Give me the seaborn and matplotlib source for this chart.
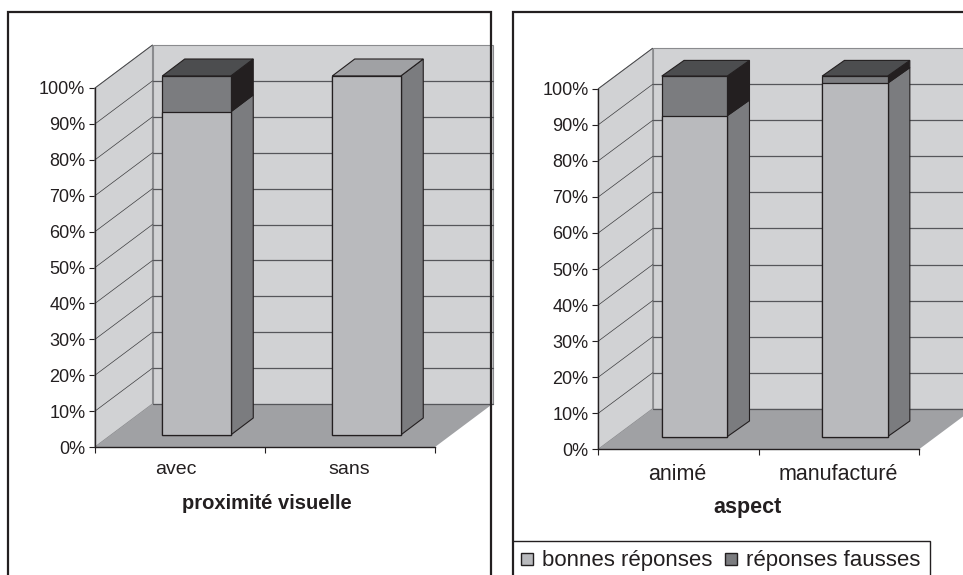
import matplotlib
matplotlib.use("Agg")
import matplotlib.pyplot as plt
import pandas as pd
import seaborn as sns
from matplotlib.lines import Line2D
from matplotlib.patches import Polygon, Rectangle
from matplotlib.transforms import Affine2D

# Percentages per condition
proximite_categories = ["avec", "sans"]
proximite_bonnes = [90, 100]
proximite_fausses = [10, 0]

aspect_categories = ["animé", "manufacturé"]
aspect_bonnes = [89, 98]
aspect_fausses = [11, 2]

y_ticks = list(range(0, 101, 10))
legend_labels = ["bonnes réponses", "réponses fausses"]

WIDTH, HEIGHT = 963, 575
INK = "#231f20"
WALL = "#d1d2d4"
FLOOR = "#a0a1a4"
GRID = "#55565a"
LIGHT = "#b9babd"
LIGHT_SIDE = "#7b7c7f"
LIGHT_TOP = "#a0a1a4"
DARK = "#7b7c7f"
DARK_SIDE = "#231f20"
DARK_TOP = "#4c4d4f"

sns.set_theme(style="white")
plt.rcParams["font.family"] = ["Liberation Sans", "DejaVu Sans"]
plt.rcParams["text.color"] = INK

fig = plt.figure(figsize=(WIDTH / 100, HEIGHT / 100), dpi=100, facecolor="white")


def fx(x):
    return x / WIDTH


def fy(y):
    return 1 - y / HEIGHT


def draw_panel(categories, bonnes, fausses, xlabel, box, wall_shift, bar_shift,
               bar_depth, bar_width, label_y, title_y, label_x, title_x,
               label_size, title_size):
    """Stacked percentage bars on a pseudo-3D wall and floor; box is in pixels."""
    left, right, y100, y0 = box
    ax = fig.add_axes([fx(left), fy(y0), (right - left) / WIDTH, (y0 - y100) / HEIGHT],
                      facecolor="none")
    table = pd.DataFrame({"cat": categories, "bonnes": bonnes,
                          "total": [b + f for b, f in zip(bonnes, fausses)]})
    sns.barplot(table, x="cat", y="total", color=DARK, saturation=1, width=bar_width,
                edgecolor=INK, linewidth=0.9, ax=ax, zorder=5)
    sns.barplot(table, x="cat", y="bonnes", color=LIGHT, saturation=1, width=bar_width,
                edgecolor=INK, linewidth=0.9, ax=ax, zorder=6)
    ax.set_xlim(-0.5, 1.5)
    ax.set_ylim(0, 100)

    # Pixel-to-data scale, used for the receding depth direction
    ux = 2 / (right - left)
    uy = 100 / (y0 - y100)
    wx, wy = wall_shift[0] * ux, wall_shift[1] * uy
    dx, dy = bar_depth[0] * ux, bar_depth[1] * uy
    front = ax.transData + Affine2D().translate(*bar_shift)

    def poly(points, color, z, edge=None, lw=0.0, transform=None):
        ax.add_patch(Polygon(points, closed=True, facecolor=color, edgecolor=edge or color,
                             linewidth=lw, zorder=z, clip_on=False,
                             transform=transform or ax.transData))

    # Side wall, back wall and floor
    poly([(-0.5, 0), (-0.5, 100), (-0.5 + wx, 100 + wy), (-0.5 + wx, wy)], WALL, 1, "#8a8b8e", 0.8)
    poly([(-0.5 + wx, wy), (-0.5 + wx, 100 + wy), (1.5 + wx, 100 + wy), (1.5 + wx, wy)],
         WALL, 1, "#8a8b8e", 0.8)
    poly([(-0.5, 0), (1.5, 0), (1.5 + wx, wy), (-0.5 + wx, wy)], FLOOR, 2)

    for value in y_ticks[1:]:
        ax.plot([-0.5, -0.5 + wx], [value, value + wy], color="#3c3c3e", lw=0.5, zorder=2,
                clip_on=False)
        if value < 100:
            ax.plot([-0.5 + wx, 1.5 + wx], [value + wy, value + wy], color=GRID, lw=0.9,
                    zorder=2, clip_on=False)
    ax.plot([-0.5 + wx, 1.5 + wx], [wy, wy], color=GRID, lw=0.9, zorder=2.5, clip_on=False)

    # Depth faces of every bar
    half = bar_width / 2
    for i, (good, bad) in enumerate(zip(bonnes, fausses)):
        x = i + half
        total = good + bad
        poly([(x, 0), (x + dx, dy), (x + dx, good + dy), (x, good)], LIGHT_SIDE, 4, INK, 0.8, front)
        if bad > 0:
            poly([(x, good), (x + dx, good + dy), (x + dx, total + dy), (x, total)],
                 DARK_SIDE, 4, INK, 0.8, front)
        top = DARK_TOP if bad > 0 else LIGHT_TOP
        poly([(i - half, total), (x, total), (x + dx, total + dy), (i - half + dx, total + dy)],
             top, 4, INK, 0.8, front)

    for patch in ax.patches[:]:
        if isinstance(patch, Rectangle):
            patch.set_transform(front)
            patch.set_clip_on(False)

    # Axes, ticks and labels
    sns.despine(ax=ax, top=True, right=True)
    for side in ("left", "bottom"):
        ax.spines[side].set_color(INK)
        ax.spines[side].set_linewidth(1.0)
        ax.spines[side].set_zorder(3)
    ax.set_yticks(y_ticks, [f"{v}%" for v in y_ticks])
    ax.set_xticks([-0.5, 0.5, 1.5], ["", "", ""])
    ax.tick_params(axis="both", which="major", length=4, width=0.8, color=INK, left=True,
                   bottom=True, labelsize=13, labelcolor=INK, pad=3)
    ax.set_xlabel("")
    ax.set_ylabel("")
    for name, px in zip(categories, label_x):
        fig.text(fx(px), fy(label_y), name, ha="center", va="center", fontsize=label_size)
    fig.text(fx(title_x), fy(title_y), xlabel, ha="center", va="center", fontsize=title_size,
             fontweight="bold")


draw_panel(proximite_categories, proximite_bonnes, proximite_fausses, "proximité visuelle",
           box=(95, 435, 88, 447), wall_shift=(57.5, 43), bar_shift=(16.5, 12),
           bar_depth=(22.5, 17), bar_width=0.403, label_y=469.5, title_y=503.5,
           label_x=[176, 349], title_x=267, label_size=14, title_size=14.5)
draw_panel(aspect_categories, aspect_bonnes, aspect_fausses, "aspect",
           box=(598.3, 919, 88.7, 449.3), wall_shift=(54.4, 40.5), bar_shift=(16, 12.6),
           bar_depth=(22.3, 15.7), bar_width=0.408, label_y=474, title_y=508,
           label_x=[677, 838], title_x=747.7, label_size=15.5, title_size=15.5)


def frame(points, lw=1.6):
    fig.add_artist(Line2D([fx(p[0]) for p in points], [fy(p[1]) for p in points],
                          color=INK, lw=lw, transform=fig.transFigure, zorder=10,
                          solid_joinstyle="miter"))


# Panel frames run off the lower and right edges of the figure
frame([(8, 580), (8, 12), (490.5, 12), (490.5, 580)])
frame([(513, 580), (513, 12), (970, 12)])
frame([(513, 541), (930, 541), (930, 580)], lw=1.0)

handles = [Line2D([], [], linestyle="none", marker="s", markersize=8, markerfacecolor=c,
                  markeredgecolor=INK, markeredgewidth=1.0) for c in (LIGHT, DARK)]
fig.legend(handles, legend_labels, loc="upper left", bbox_to_anchor=(fx(513), fy(546)),
           ncol=2, frameon=False, fontsize=16, handlelength=0.9, handletextpad=0.2,
           columnspacing=0.4, borderpad=0.2, borderaxespad=0)

fig.savefig("out.png", dpi=100, facecolor="white")
